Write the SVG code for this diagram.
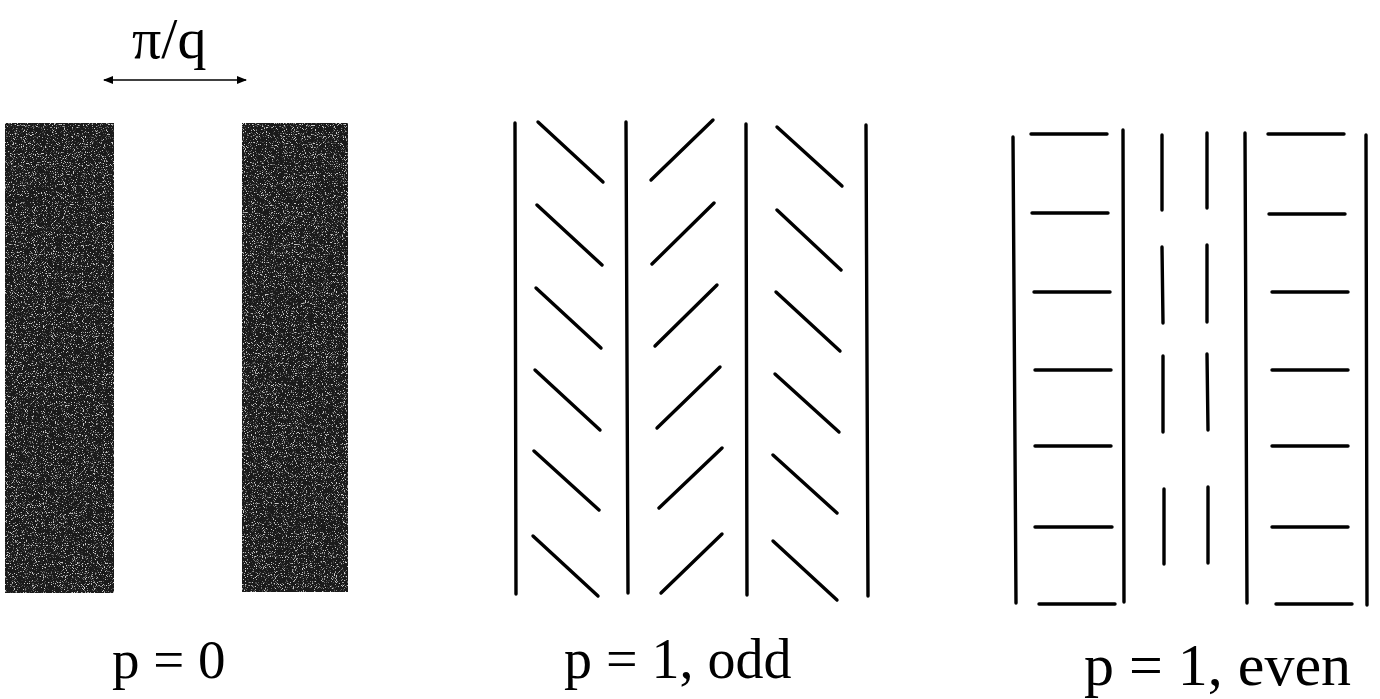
<svg xmlns="http://www.w3.org/2000/svg" width="1380" height="699" viewBox="0 0 1380 699">
<defs>
<style>
.ln{stroke:#000;stroke-width:3.4;stroke-linecap:round;fill:none}
.bar{fill:#1a1a1a}
.lbl{font-family:"Liberation Serif","Times New Roman",serif;fill:#000}
</style>
<filter id="grain" x="0" y="0" width="100%" height="100%" color-interpolation-filters="sRGB">
<feTurbulence type="fractalNoise" baseFrequency="0.9" numOctaves="2" seed="7" result="n"/>
<feColorMatrix in="n" type="matrix" values="0 0 0 0 0.8  0 0 0 0 0.8  0 0 0 0 0.8  7 0 0 0 -4.0" result="sp"/>
<feComposite in="sp" in2="SourceGraphic" operator="in" result="sp2"/>
<feMerge><feMergeNode in="SourceGraphic"/><feMergeNode in="sp2"/></feMerge>
</filter>
<marker id="ah" viewBox="0 0 10 10" refX="9" refY="5" markerWidth="10" markerHeight="10" markerUnits="userSpaceOnUse" orient="auto-start-reverse">
<path d="M0,1 L10,5 L0,9 Z" fill="#000"/>
</marker>
</defs>
<rect width="1380" height="699" fill="#fff"/>

<g id="panel-p0">
<rect class="bar" x="5" y="123" width="109" height="470" filter="url(#grain)"/>
<rect class="bar" x="242" y="123" width="106" height="469" filter="url(#grain)"/>
<text class="lbl" x="132" y="58" font-size="58">π/q</text>
<line x1="104" y1="80" x2="246" y2="80" stroke="#000" stroke-width="1.3" marker-start="url(#ah)" marker-end="url(#ah)"/>
<text class="lbl" x="112" y="678" font-size="55">p = 0</text>
</g>

<g id="panel-odd">
<g class="ln">
<line x1="515" y1="123" x2="516" y2="594"/>
<line x1="626" y1="122" x2="628" y2="593"/>
<line x1="746" y1="124" x2="747" y2="595"/>
<line x1="866" y1="125" x2="868" y2="596"/>
</g>
<g class="ln">
<line x1="538" y1="122" x2="603" y2="182"/>
<line x1="537" y1="205" x2="602" y2="265"/>
<line x1="536" y1="288" x2="601" y2="348"/>
<line x1="535" y1="370" x2="600" y2="430"/>
<line x1="534" y1="451" x2="599" y2="510"/>
<line x1="533" y1="536" x2="598" y2="596"/>
</g>
<g class="ln">
<line x1="651" y1="180" x2="713" y2="120"/>
<line x1="652" y1="264" x2="714" y2="203"/>
<line x1="655" y1="346" x2="717" y2="285"/>
<line x1="657" y1="428" x2="720" y2="367"/>
<line x1="659" y1="508" x2="722" y2="448"/>
<line x1="661" y1="593" x2="722" y2="534"/>
</g>
<g class="ln">
<line x1="777" y1="127" x2="842" y2="186"/>
<line x1="777" y1="210" x2="841" y2="270"/>
<line x1="776" y1="292" x2="840" y2="351"/>
<line x1="775" y1="374" x2="839" y2="432"/>
<line x1="773" y1="455" x2="837" y2="513"/>
<line x1="773" y1="541" x2="837" y2="600"/>
</g>
<text class="lbl" x="564" y="678" font-size="56">p = 1, odd</text>
</g>

<g id="panel-even">
<g class="ln">
<line x1="1013" y1="137" x2="1016" y2="603"/>
<line x1="1123" y1="130" x2="1124" y2="602"/>
<line x1="1245" y1="133" x2="1247" y2="603"/>
<line x1="1366" y1="135" x2="1367" y2="605"/>
</g>
<g class="ln">
<line x1="1031" y1="134" x2="1107" y2="134"/>
<line x1="1032" y1="213" x2="1108" y2="213"/>
<line x1="1034" y1="292" x2="1110" y2="292"/>
<line x1="1035" y1="370" x2="1111" y2="370"/>
<line x1="1035" y1="446" x2="1111" y2="446"/>
<line x1="1035" y1="527" x2="1112" y2="527"/>
<line x1="1039" y1="604" x2="1115" y2="604"/>
</g>
<g class="ln">
<line x1="1268" y1="134" x2="1344" y2="134"/>
<line x1="1269" y1="214" x2="1345" y2="214"/>
<line x1="1272" y1="292" x2="1348" y2="292"/>
<line x1="1272" y1="370" x2="1348" y2="370"/>
<line x1="1272" y1="446" x2="1348" y2="446"/>
<line x1="1272" y1="527" x2="1348" y2="527"/>
<line x1="1276" y1="604" x2="1352" y2="604"/>
</g>
<g class="ln">
<line x1="1162" y1="135" x2="1162" y2="210"/>
<line x1="1162" y1="247" x2="1163" y2="323"/>
<line x1="1163" y1="356" x2="1163" y2="432"/>
<line x1="1164" y1="489" x2="1164" y2="564"/>
<line x1="1207" y1="133" x2="1207" y2="208"/>
<line x1="1207" y1="245" x2="1207" y2="322"/>
<line x1="1207" y1="354" x2="1208" y2="430"/>
<line x1="1208" y1="487" x2="1208" y2="563"/>
</g>
<text class="lbl" x="1084" y="685" font-size="60">p = 1, even</text>
</g>
</svg>
